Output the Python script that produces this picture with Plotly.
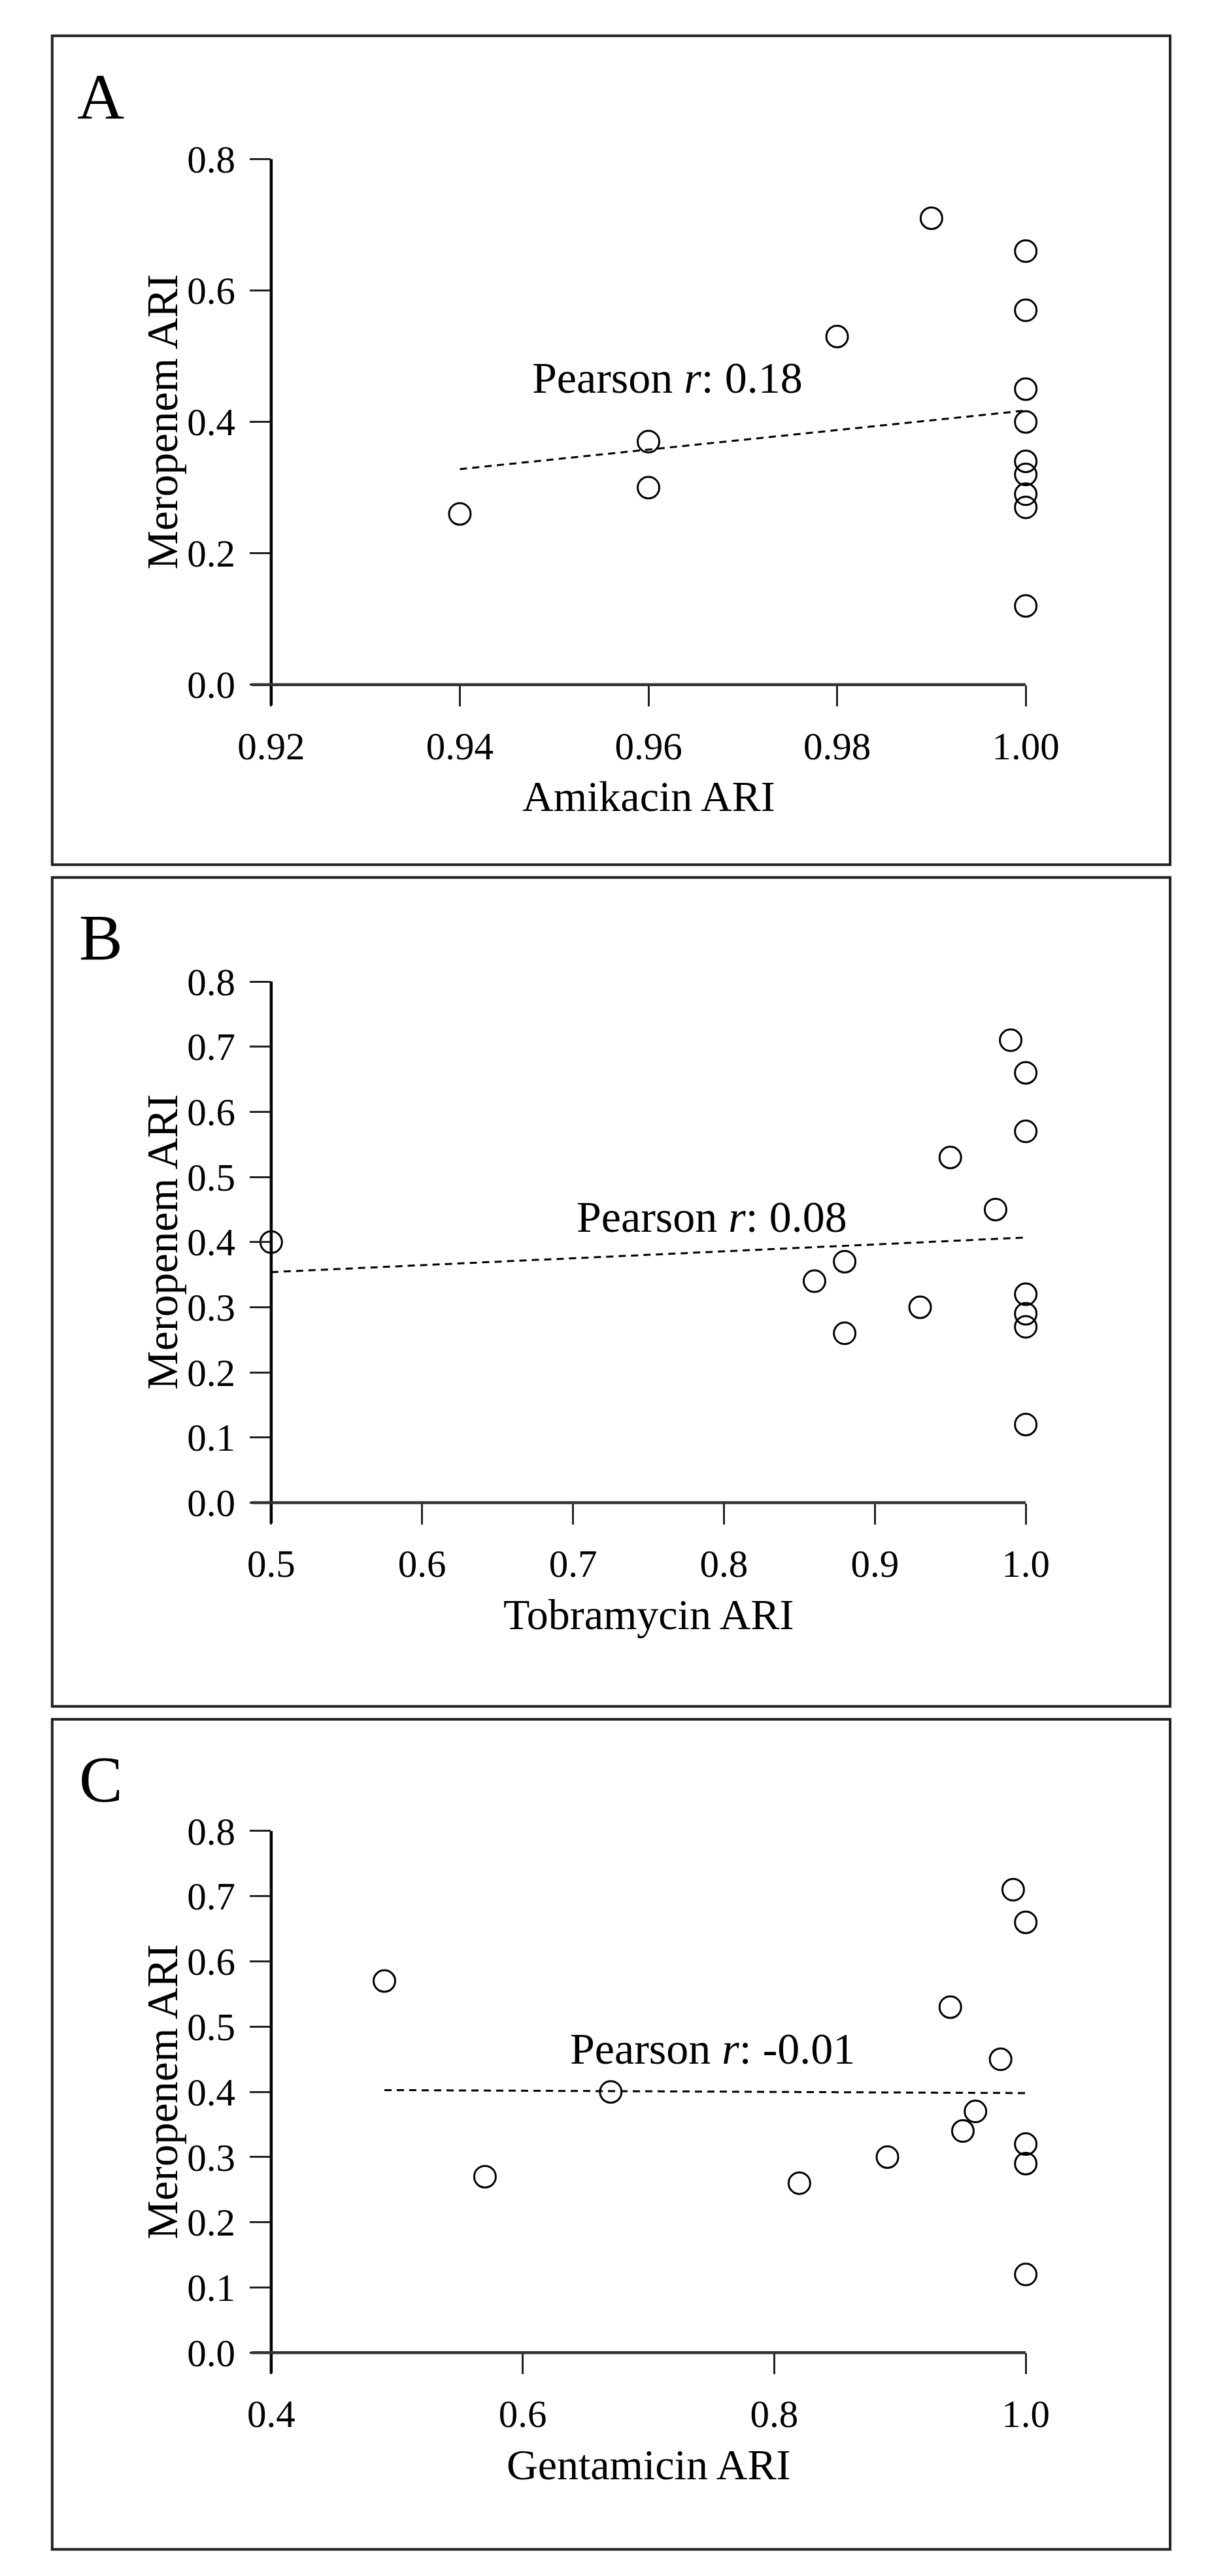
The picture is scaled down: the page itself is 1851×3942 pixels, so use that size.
import numpy as np
import plotly.graph_objects as go

W, H = 1851, 3942

# ---------------- data ----------------
amikacin_x = [0.94, 0.96, 0.96, 0.98, 0.99, 1.00, 1.00, 1.00, 1.00, 1.00, 1.00, 1.00, 1.00, 1.00]
amikacin_mero_y = [0.26, 0.37, 0.30, 0.53, 0.71, 0.66, 0.57, 0.45, 0.40, 0.34, 0.32, 0.29, 0.27, 0.12]

tobramycin_x = [0.50, 0.86, 0.88, 0.88, 0.93, 0.95, 0.98, 0.99, 1.00, 1.00, 1.00, 1.00, 1.00, 1.00]
tobramycin_mero_y = [0.40, 0.34, 0.37, 0.26, 0.30, 0.53, 0.45, 0.71, 0.66, 0.57, 0.32, 0.29, 0.27, 0.12]

gentamicin_x = [0.49, 0.57, 0.67, 0.82, 0.89, 0.94, 0.95, 0.96, 0.98, 0.99, 1.00, 1.00, 1.00, 1.00]
gentamicin_mero_y = [0.57, 0.27, 0.40, 0.26, 0.30, 0.53, 0.34, 0.37, 0.45, 0.71, 0.66, 0.32, 0.29, 0.12]

panel_letters = ["A", "B", "C"]
x_titles = ["Amikacin ARI", "Tobramycin ARI", "Gentamicin ARI"]
y_title = "Meropenem ARI"
pearson_r = ["0.18", "0.08", "-0.01"]

x_ranges = [[0.92, 1.00], [0.5, 1.0], [0.4, 1.0]]
x_dticks = [0.02, 0.1, 0.2]
x_formats = [".2f", ".1f", ".1f"]
y_range = [0, 0.8]
y_dticks = [0.2, 0.1, 0.1]
pearson_pos = [(0.962, 0.467), (0.792, 0.439), (0.751, 0.466)]

# ---------------- layout geometry (pixels) ----------------
FONT = "Liberation Serif, Times New Roman, serif"
plot_left, plot_right = 376, 1599
panels_px = [  # plot top, plot bottom, frame top, frame bottom
    (207, 1025, 15, 1305),
    (1487, 2298, 1325, 2615),
    (2809, 3621, 2635, 3927),
]
frame_left, frame_right = 21, 1833
letter_y = [110, 1418, 2728]

def px(x):
    return x / W

def py(y):
    return 1 - y / H

series = [
    (amikacin_x, amikacin_mero_y),
    (tobramycin_x, tobramycin_mero_y),
    (gentamicin_x, gentamicin_mero_y),
]

fig = go.Figure()
shapes = []
annotations = []
layout_axes = {}

for i, (xs, ys) in enumerate(series):
    n = "" if i == 0 else str(i + 1)
    xa, ya = "x" + n, "y" + n
    ptop, pbot, ftop, fbot = panels_px[i]

    # regression line (least squares fit of the data)
    xs_a = np.array(xs)
    ys_a = np.array(ys)
    slope, intercept = np.polyfit(xs_a, ys_a, 1)
    lx = np.array([xs_a.min(), xs_a.max()])
    fig.add_trace(go.Scatter(
        x=lx, y=slope * lx + intercept, mode="lines",
        line=dict(color="black", width=3, dash="11px,8px"),
        xaxis=xa, yaxis=ya, showlegend=False, hoverinfo="skip", cliponaxis=False,
    ))
    fig.add_trace(go.Scatter(
        x=xs, y=ys, mode="markers",
        marker=dict(symbol="circle-open", size=33, color="black", line=dict(width=3, color="black")),
        xaxis=xa, yaxis=ya, showlegend=False, cliponaxis=False,
    ))

    axis_common = dict(showgrid=False, zeroline=False, showline=False,
                       ticks="outside", ticklen=32, tickwidth=3, tickcolor="#222222",
                       tickfont=dict(family=FONT, size=59, color="black"),
                       ticklabelstandoff=10)
    layout_axes["xaxis" + n] = dict(
        axis_common, domain=[px(plot_left), px(plot_right)], anchor=ya,
        range=x_ranges[i], tick0=x_ranges[i][0], dtick=x_dticks[i], tickformat=x_formats[i],
    )
    layout_axes["yaxis" + n] = dict(
        axis_common, domain=[py(pbot), py(ptop)], anchor=xa,
        range=y_range, tick0=0, dtick=y_dticks[i], tickformat=".1f",
    )

    plot_h = pbot - ptop
    plot_w = plot_right - plot_left
    # axis lines (extended by tick length, as in the reference)
    shapes.append(dict(type="line", xref=xa + " domain", yref=ya + " domain",
                       x0=0, x1=0, y0=-32 / plot_h, y1=1, line=dict(color="black", width=4.5)))
    shapes.append(dict(type="line", xref=xa + " domain", yref=ya + " domain",
                       x0=-32 / plot_w, x1=1, y0=0, y1=0, line=dict(color="#333333", width=4.5)))
    # panel frame
    shapes.append(dict(type="rect", xref="paper", yref="paper",
                       x0=px(frame_left), x1=px(frame_right), y0=py(fbot), y1=py(ftop),
                       line=dict(color="#222222", width=4)))

    # panel letter
    annotations.append(dict(text=panel_letters[i], xref="paper", yref="paper",
                            x=px(100), y=py(letter_y[i]), xanchor="center", yanchor="middle",
                            showarrow=False, font=dict(family=FONT, size=100, color="black")))
    # x title
    annotations.append(dict(text=x_titles[i], xref="paper", yref="paper",
                            x=px((plot_left + plot_right) / 2), y=py(pbot + 174),
                            xanchor="center", yanchor="middle", showarrow=False,
                            font=dict(family=FONT, size=66, color="black")))
    # y title
    annotations.append(dict(text=y_title, xref="paper", yref="paper",
                            x=px(199), y=py((ptop + pbot) / 2), textangle=-90,
                            xanchor="center", yanchor="middle", showarrow=False,
                            font=dict(family=FONT, size=67, color="black")))
    # pearson
    annotations.append(dict(text="Pearson <i>r</i>: " + pearson_r[i], xref=xa, yref=ya,
                            x=pearson_pos[i][0], y=pearson_pos[i][1],
                            xanchor="center", yanchor="middle", showarrow=False,
                            font=dict(family=FONT, size=68, color="black")))

fig.update_layout(
    width=W, height=H,
    margin=dict(l=0, r=0, t=0, b=0),
    paper_bgcolor="white", plot_bgcolor="white",
    shapes=shapes, annotations=annotations,
    **layout_axes,
)

fig.write_html("out.html")
